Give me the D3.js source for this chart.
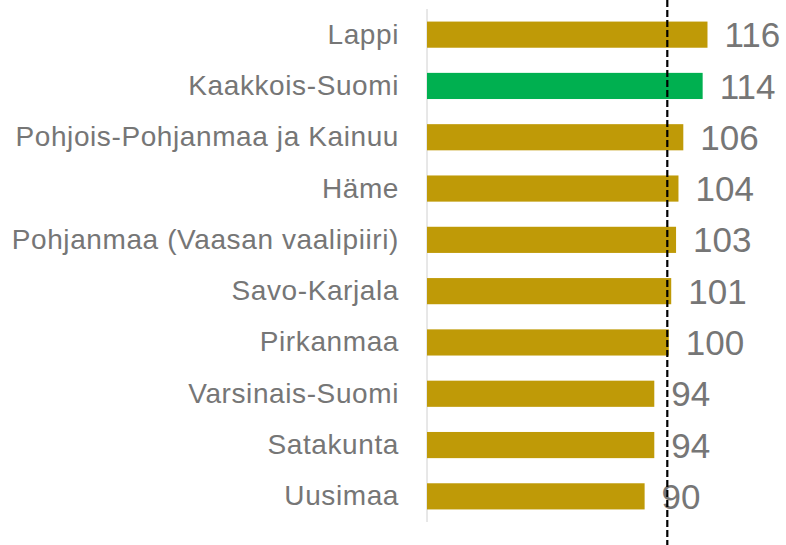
<!DOCTYPE html>
<html>
<head>
<meta charset="utf-8">
<script src="https://cdn.jsdelivr.net/npm/d3@7"></script>
<style>
  body { margin: 0; background: #fff; }
  svg text { font-family: "Liberation Sans", Arial, sans-serif; }
</style>
</head>
<body>
<div class="canvas"></div>
<script>
// data
const regions = ['Lappi', 'Kaakkois-Suomi', 'Pohjois-Pohjanmaa ja Kainuu', 'Häme',
  'Pohjanmaa (Vaasan vaalipiiri)', 'Savo-Karjala', 'Pirkanmaa', 'Varsinais-Suomi',
  'Satakunta', 'Uusimaa'];
const values = [116, 114, 106, 104, 103, 101, 100, 94, 94, 90];
const highlighted = ['Kaakkois-Suomi'];
const referenceValue = 100;

const width = 786;
const height = 545;

const svg = d3.select('.canvas')
  .append('svg')
    .attr('width', width)
    .attr('height', height);

const data = regions.map((name, i) => ({name, value: values[i]}));

// scales
const x = d3.scaleLinear()
  .domain([0, 130])
  .range([427, 427 + 130 * 2.418]);

const y = d3.scaleBand()
  .domain(regions)
  .range([9, 522])
  .paddingInner(0.49)
  .paddingOuter(0.245);

// category axis on the left, no ticks
const yAxis = d3.axisLeft(y).tickSize(0).tickPadding(28);
const yAxisGroup = svg.append('g')
  .attr('transform', `translate(${x(0)}, 0)`)
  .call(yAxis);

yAxisGroup.select('.domain')
  .attr('d', `M0,9V522`)
  .attr('stroke', '#d0d0d0')
  .attr('stroke-width', 1);

yAxisGroup.selectAll('text')
  .attr('font-size', 28)
  .attr('letter-spacing', 0.6)
  .attr('fill', '#767676')
  .attr('font-family', '"Liberation Sans", Arial, sans-serif');

// bars
svg.selectAll('rect.bar')
  .data(data)
  .enter()
  .append('rect')
    .attr('class', 'bar')
    .attr('x', x(0))
    .attr('y', d => y(d.name))
    .attr('width', d => x(d.value) - x(0))
    .attr('height', y.bandwidth())
    .attr('fill', d => highlighted.includes(d.name) ? '#00B050' : '#BF9A07');

// value labels
svg.selectAll('text.value')
  .data(data)
  .enter()
  .append('text')
    .attr('class', 'value')
    .attr('x', d => x(d.value) + 17)
    .attr('y', d => y(d.name) + y.bandwidth() / 2)
    .attr('dy', '0.36em')
    .attr('font-size', 35)
    .attr('fill', '#767676')
    .text(d => d.value);

// dashed reference line
svg.append('line')
  .attr('x1', x(referenceValue) - 1.5)
  .attr('x2', x(referenceValue) - 1.5)
  .attr('y1', 0)
  .attr('y2', height)
  .attr('stroke', '#000')
  .attr('stroke-width', 2.2)
  .attr('stroke-dasharray', '7,3');
</script>
</body>
</html>
